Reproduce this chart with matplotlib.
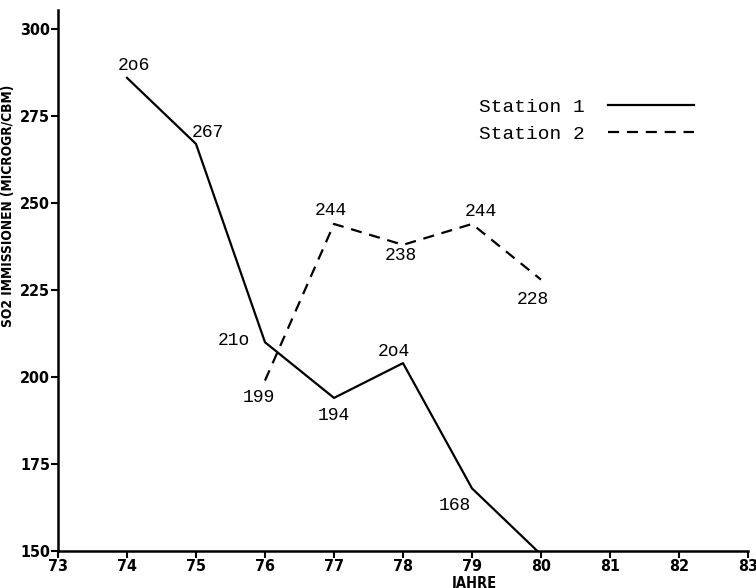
import matplotlib.pyplot as plt

# Station 1
years1 = [74, 75, 76, 77, 78, 79, 80]
station1 = [286, 267, 210, 194, 204, 168, 149]
labels1 = ["2o6", "267", "21o", "194", "2o4", "168", "149"]

# Station 2
years2 = [76, 77, 78, 79, 80]
station2 = [199, 244, 238, 244, 228]
labels2 = ["199", "244", "238", "244", "228"]

xticks = list(range(73, 84))
yticks = [150, 175, 200, 225, 250, 275, 300]

# label offsets in pixels (dx, dy)
off1 = [(7, 12), (12, 11), (-31, 2), (0, -18), (-9, 12), (-17, -17), (16, 12)]
off2 = [(-6, -17), (-3, 13), (-2, -11), (9, 12), (-8, -20)]

narrow = ["DejaVu Sans"]
mono = ["Liberation Mono", "DejaVu Sans Mono"]

fig = plt.figure(figsize=(7.56, 5.88), dpi=100)
ax = fig.add_axes([58 / 756, 1 - 551 / 588, 690 / 756, 541 / 588])

ax.plot(years1, station1, color="black", lw=1.6, label="Station 1")
ax.plot(years2, station2, color="black", lw=1.6, dashes=(5, 3.5), label="Station 2")

for x, y, t, (dx, dy) in zip(years1, station1, labels1, off1):
    ax.annotate(t, (x, y), xytext=(dx, dy), textcoords="offset pixels",
                ha="center", va="center", fontsize=13, family=mono)
for x, y, t, (dx, dy) in zip(years2, station2, labels2, off2):
    ax.annotate(t, (x, y), xytext=(dx, dy), textcoords="offset pixels",
                ha="center", va="center", fontsize=13, family=mono)

ax.set_xlim(73, 83)
ax.set_ylim(150, 305.5)
ax.set_xticks(xticks)
ax.set_yticks(yticks)
ax.spines["top"].set_visible(False)
ax.spines["right"].set_visible(False)
for s in ["left", "bottom"]:
    ax.spines[s].set_linewidth(1.8)
ax.tick_params(direction="out", length=5, width=1.5, pad=0.5)
for lab in ax.get_xticklabels() + ax.get_yticklabels():
    lab.set_family(narrow)
    lab.set_fontweight("bold")
    lab.set_fontstretch("condensed")
    lab.set_fontsize(11.5)

ax.set_ylabel("SO2 IMMISSIONEN (MICROGR/CBM)", family=narrow,
              fontweight="bold", fontstretch="condensed", fontsize=9.8)
ax.yaxis.set_label_coords(-0.062, 0.638)
ax.set_xlabel("JAHRE", family=narrow, fontweight="bold",
              fontstretch="condensed", fontsize=10.5)
ax.xaxis.set_label_coords(0.603, -0.046)

ax.legend(loc="upper right", bbox_to_anchor=(694 / 756, 1 - 98 / 588),
          bbox_transform=fig.transFigure, frameon=False, markerfirst=False,
          prop={"family": mono, "size": 14}, handlelength=4.4,
          handletextpad=1.2, labelspacing=0.5, borderpad=0, borderaxespad=0)

fig.savefig("out.png", dpi=100)
